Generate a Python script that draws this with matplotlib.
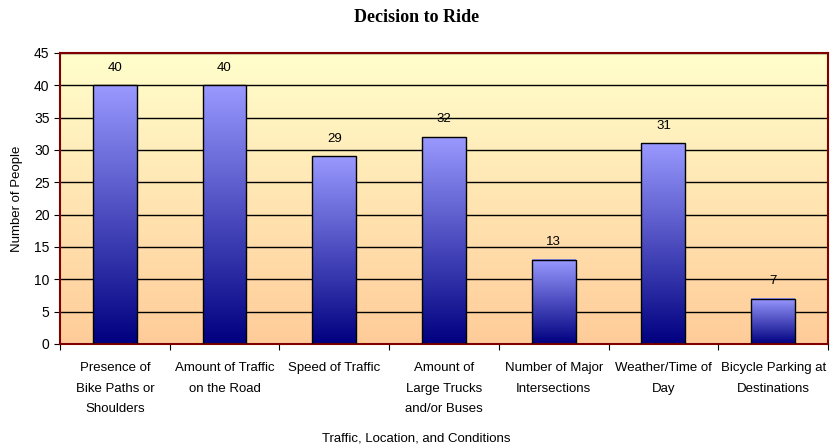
import numpy as np
import matplotlib.pyplot as plt
from matplotlib.colors import LinearSegmentedColormap

# data
categories = ["Presence of\nBike Paths or\nShoulders", "Amount of Traffic\non the Road",
              "Speed of Traffic", "Amount of\nLarge Trucks\nand/or Buses",
              "Number of Major\nIntersections", "Weather/Time of\nDay",
              "Bicycle Parking at\nDestinations"]
counts = [40, 40, 29, 32, 13, 31, 7]

plt.rcParams['font.family'] = ['Liberation Sans', 'DejaVu Sans']

fig = plt.figure(figsize=(8.33, 4.45), dpi=100)
ax = fig.add_axes([0.072, 0.227, 0.922, 0.654])

ymax = 45
n = len(categories)
x = np.arange(n)

# background gradient
bg = LinearSegmentedColormap.from_list('bg', ['#FFCC99', '#FFFFCC'])
grad = np.linspace(0, 1, 256).reshape(-1, 1)
ax.imshow(grad, cmap=bg, origin='lower', aspect='auto',
          extent=[-0.5, n - 0.5, 0, ymax], zorder=0)

ax.set_yticks(np.arange(0, 46, 5))
ax.grid(axis='y', color='black', linewidth=1, zorder=1)

# bars with per-bar gradient
barcm = LinearSegmentedColormap.from_list('bar', ['#000080', '#9999FF'])
w = 0.4
for xi, v in zip(x, counts):
    ax.imshow(grad, cmap=barcm, origin='lower', aspect='auto',
              extent=[xi - w / 2, xi + w / 2, 0, v], zorder=2)
    ax.bar(xi, v, width=w, facecolor='none', edgecolor='black', linewidth=1, zorder=3)
    ax.text(xi, v + 1.8, str(v), ha='center', va='bottom', fontsize=9.5, zorder=4)

ax.set_xlim(-0.5, n - 0.5)
ax.set_ylim(0, ymax)

# category labels centered, ticks on boundaries
ax.set_xticks(np.arange(n + 1) - 0.5)
ax.set_xticklabels([])
ax.set_xticks(x, minor=True)
ax.set_xticklabels(categories, minor=True, fontsize=9.5, linespacing=1.95)
ax.tick_params(axis='x', which='minor', length=0, pad=13)
ax.tick_params(axis='x', which='major', length=4, color='black')
ax.tick_params(axis='y', labelsize=10, length=4)

for s in ax.spines.values():
    s.set_color('#800000')
    s.set_linewidth(1.5)

ax.set_ylabel('Number of People', fontsize=9.5, labelpad=8)
fig.text(0.5, 0.008, 'Traffic, Location, and Conditions', ha='center', fontsize=9.5)
fig.text(0.5, 0.961, 'Decision to Ride', ha='center', va='center',
         fontsize=13, fontweight='bold', family='Liberation Serif')

fig.savefig('out.png', dpi=100)
